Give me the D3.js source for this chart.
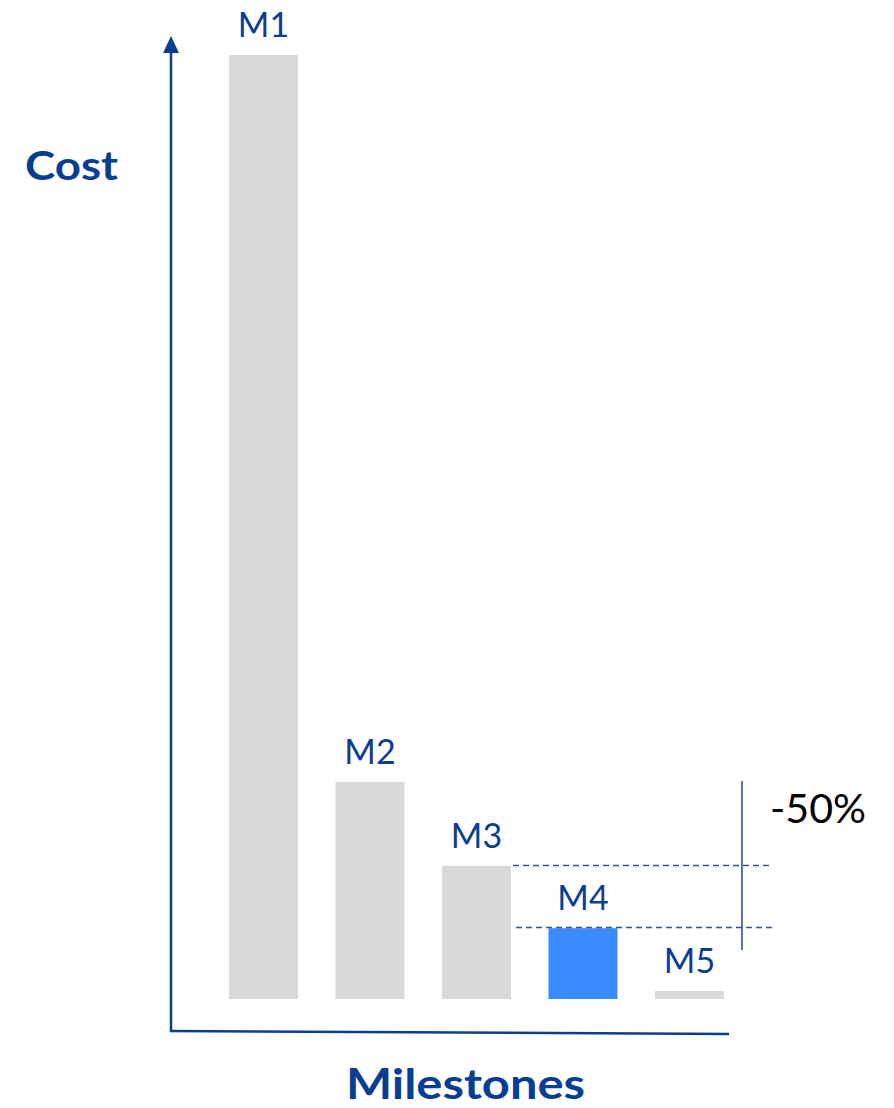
<!DOCTYPE html>
<html>
<head>
<meta charset="utf-8">
<script src="https://cdn.jsdelivr.net/npm/d3@7"></script>
<style>
html,body{margin:0;padding:0;background:#fff;}
svg{display:block;}
</style>
</head>
<body>
<svg id="chart" width="894" height="1108"></svg>
<script>
const categories = ["M1", "M2", "M3", "M4", "M5"];
const values = [100, 23, 14.1, 7.5, 0.85];
const highlight = ["M4"];
const annotationText = "-50%";
const yTitle = "Cost";
const xTitle = "Milestones";

const svg = d3.select("#chart");
const axisColor = "#0B3D91";
const labelColor = "#0B3D91";
const font = "Lato, 'Open Sans', sans-serif";

const x = d3.scaleBand().domain(categories).range([229, 724]).paddingInner(0.352).paddingOuter(0);
const y = d3.scaleLinear().domain([0, 100]).range([999, 55]);

// bars
svg.selectAll("rect.bar").data(categories).enter().append("rect")
  .attr("class", "bar")
  .attr("x", d => x(d))
  .attr("width", x.bandwidth())
  .attr("y", (d, i) => y(values[i]))
  .attr("height", (d, i) => y(0) - y(values[i]))
  .attr("fill", d => highlight.includes(d) ? "#3A8BFF" : "#D9D9D9");

// bar labels
svg.selectAll("text.lbl").data(categories).enter().append("text")
  .attr("class", "lbl")
  .attr("x", d => x(d) + x.bandwidth() / 2)
  .attr("y", (d, i) => y(values[i]) - 18)
  .attr("text-anchor", "middle")
  .attr("fill", labelColor)
  .style("font-family", font)
  .style("font-size", "34px")
  .text(d => d);

// axes
svg.append("line").attr("x1", 171).attr("y1", 1032).attr("x2", 171).attr("y2", 52)
  .attr("stroke", axisColor).attr("stroke-width", 2.5);
svg.append("path").attr("d", "M171,36 L163,53 L179,53 Z").attr("fill", axisColor);
svg.append("line").attr("x1", 170).attr("y1", 1031).attr("x2", 729).attr("y2", 1034)
  .attr("stroke", axisColor).attr("stroke-width", 2.5);

// dashed reference lines at M3 and M4 levels
const i3 = categories.indexOf("M3"), i4 = categories.indexOf("M4");
const dashStart = x("M3") + x.bandwidth() + 2;
[[i3, dashStart], [i4, dashStart + 3]].forEach(([i, xs]) => {
  svg.append("line").attr("x1", xs).attr("x2", 773)
    .attr("y1", Math.round(y(values[i])) - 0.5).attr("y2", Math.round(y(values[i])) - 0.5)
    .attr("stroke", "#2F5597").attr("stroke-width", 1.3).attr("stroke-dasharray", "6,4");
});
svg.append("line").attr("x1", 742).attr("x2", 742).attr("y1", 781).attr("y2", 950)
  .attr("stroke", "#2F5597").attr("stroke-width", 1.6);
svg.append("text").attr("x", 770).attr("y", 823).attr("fill", "#000")
  .attr("textLength", 96).attr("lengthAdjust", "spacingAndGlyphs")
  .style("font-family", font).style("font-size", "41px").text(annotationText);

// titles
svg.append("text").attr("x", 25).attr("y", 180).attr("fill", "#073E91")
  .attr("textLength", 93).attr("lengthAdjust", "spacingAndGlyphs")
  .style("font-family", font).style("font-weight", "bold").style("font-size", "41px").text(yTitle);
svg.append("text").attr("x", 346).attr("y", 1099).attr("fill", "#073E91")
  .attr("textLength", 239).attr("lengthAdjust", "spacingAndGlyphs")
  .style("font-family", font).style("font-weight", "bold").style("font-size", "42px").text(xTitle);
</script>
</body>
</html>
